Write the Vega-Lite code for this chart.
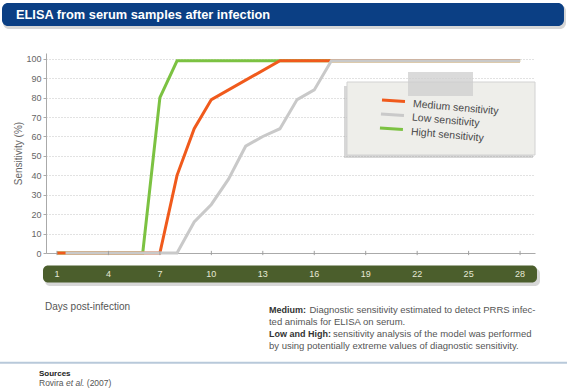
{
  "$schema": "https://vega.github.io/schema/vega-lite/v6.json",
  "width": 489,
  "height": 200,
  "autosize": {"type": "none"},
  "padding": {"left": 46, "top": 53, "right": 32, "bottom": 138},
  "background": "white",
  "config": {
    "view": {"stroke": null},
    "font": "Liberation Sans",
    "axisX": {"labels": false, "ticks": false, "grid": false, "domainColor": "#aaaaaa"},
    "axisY": {"tickCount": 11, "labelFontSize": 9, "labelColor": "#666666", "labelPadding": 2, "tickSize": 3, "tickColor": "#aaaaaa", "domainColor": "#aaaaaa", "grid": true, "gridColor": "#c4c4c4", "gridDash": [1, 2], "titleFontSize": 10, "titleFontWeight": "normal", "titleColor": "#666666", "titlePadding": 2}
  },
  "datasets": {
    "series": [
      {"series": "High", "day": 1, "value": 0},
      {"series": "High", "day": 6, "value": 0},
      {"series": "High", "day": 7, "value": 80},
      {"series": "High", "day": 8, "value": 99},
      {"series": "High", "day": 28, "value": 99},
      {"series": "Medium", "day": 1, "value": 0},
      {"series": "Medium", "day": 7, "value": 0},
      {"series": "Medium", "day": 8, "value": 40},
      {"series": "Medium", "day": 9, "value": 64},
      {"series": "Medium", "day": 10, "value": 79},
      {"series": "Medium", "day": 14, "value": 99},
      {"series": "Medium", "day": 28, "value": 99},
      {"series": "Low", "day": 1.5, "value": 0},
      {"series": "Low", "day": 8, "value": 0},
      {"series": "Low", "day": 9, "value": 16},
      {"series": "Low", "day": 10, "value": 25},
      {"series": "Low", "day": 11, "value": 38},
      {"series": "Low", "day": 12, "value": 55},
      {"series": "Low", "day": 13, "value": 60},
      {"series": "Low", "day": 14, "value": 64},
      {"series": "Low", "day": 15, "value": 79},
      {"series": "Low", "day": 16, "value": 84},
      {"series": "Low", "day": 17, "value": 99},
      {"series": "Low", "day": 28, "value": 99}
    ],
    "ticks": [
      {"day": 1}, {"day": 4}, {"day": 7}, {"day": 10}, {"day": 13},
      {"day": 16}, {"day": 19}, {"day": 22}, {"day": 25}, {"day": 28}
    ]
  },
  "layer": [
    {
      "data": {"name": "series"},
      "transform": [{"filter": "datum.series === 'High'"}],
      "mark": {"type": "line", "color": "#7cc242", "strokeWidth": 3},
      "encoding": {
        "x": {"field": "day", "type": "quantitative", "title": null, "scale": {"domain": [0.36, 28.87], "nice": false, "zero": false}},
        "y": {"field": "value", "type": "quantitative", "title": "Sensitivity (%)", "scale": {"domain": [0, 103], "nice": false, "zero": false}}
      }
    },
    {
      "data": {"name": "series"},
      "transform": [{"filter": "datum.series === 'Medium'"}],
      "mark": {"type": "line", "color": "#f05a1c", "strokeWidth": 3},
      "encoding": {
        "x": {"field": "day", "type": "quantitative"},
        "y": {"field": "value", "type": "quantitative"}
      }
    },
    {
      "data": {"name": "series"},
      "transform": [{"filter": "datum.series === 'Low'"}],
      "mark": {"type": "line", "color": "#c9c9c9", "strokeWidth": 3},
      "encoding": {
        "x": {"field": "day", "type": "quantitative"},
        "y": {"field": "value", "type": "quantitative"}
      }
    },
    {
      "data": {"name": "ticks"},
      "mark": {"type": "rule", "color": "#a0a0a0", "strokeWidth": 1},
      "encoding": {
        "x": {"field": "day", "type": "quantitative"},
        "y": {"datum": 1.1, "type": "quantitative"},
        "y2": {"datum": -1.1}
      }
    },
    {
      "data": {"values": [{}]},
      "mark": {"type": "rect", "cornerRadius": 6, "fill": "#8a8a8a", "opacity": 0.35},
      "encoding": {
        "x": {"datum": -2.147, "type": "quantitative"},
        "x2": {"datum": 30.677},
        "y": {"datum": 127.72, "type": "quantitative"},
        "y2": {"datum": 115.36}
      }
    },
    {
      "data": {"values": [{}]},
      "mark": {"type": "rect", "cornerRadius": 6, "fill": "#0b3f84"},
      "encoding": {
        "x": {"datum": -2.205, "type": "quantitative"},
        "x2": {"datum": 30.56},
        "y": {"datum": 128.75, "type": "quantitative"},
        "y2": {"datum": 116.9}
      }
    },
    {
      "data": {"values": [{"t": "ELISA from serum samples after infection"}]},
      "mark": {"type": "text", "align": "left", "baseline": "middle", "fontSize": 12.8, "fontWeight": "bold", "color": "#ffffff"},
      "encoding": {
        "x": {"datum": -1.389, "type": "quantitative"},
        "y": {"datum": 122.57, "type": "quantitative"},
        "text": {"field": "t"}
      }
    },
    {
      "data": {"values": [{}]},
      "mark": {"type": "rect", "fill": "#9a9a9a", "opacity": 0.4},
      "encoding": {
        "x": {"datum": 17.734, "type": "quantitative"},
        "x2": {"datum": 28.753},
        "y": {"datum": 86.0, "type": "quantitative"},
        "y2": {"datum": 48.925}
      }
    },
    {
      "data": {"values": [{}]},
      "mark": {"type": "rect", "fill": "#eeeeea", "stroke": "#d2d2d2", "strokeWidth": 1},
      "encoding": {
        "x": {"datum": 17.909, "type": "quantitative"},
        "x2": {"datum": 28.87},
        "y": {"datum": 88.065, "type": "quantitative"},
        "y2": {"datum": 50.47}
      }
    },
    {
      "data": {"values": [{}]},
      "mark": {"type": "rect", "fill": "#cdcdcd", "opacity": 0.75},
      "encoding": {
        "x": {"datum": 21.465, "type": "quantitative"},
        "x2": {"datum": 25.255},
        "y": {"datum": 93.215, "type": "quantitative"},
        "y2": {"datum": 80.855}
      }
    },
    {
      "data": {"values": [{}]},
      "mark": {"type": "rule", "color": "#f05a1c", "strokeWidth": 3},
      "encoding": {
        "x": {"datum": 19.95, "type": "quantitative"},
        "x2": {"datum": 21.29},
        "y": {"datum": 78.795, "type": "quantitative"},
        "y2": {"datum": 78.02}
      }
    },
    {
      "data": {"values": [{}]},
      "mark": {"type": "rule", "color": "#c9c9c9", "strokeWidth": 3},
      "encoding": {
        "x": {"datum": 19.89, "type": "quantitative"},
        "x2": {"datum": 21.23},
        "y": {"datum": 71.585, "type": "quantitative"},
        "y2": {"datum": 70.81}
      }
    },
    {
      "data": {"values": [{}]},
      "mark": {"type": "rule", "color": "#7cc242", "strokeWidth": 3},
      "encoding": {
        "x": {"datum": 19.83, "type": "quantitative"},
        "x2": {"datum": 21.17},
        "y": {"datum": 64.375, "type": "quantitative"},
        "y2": {"datum": 63.6}
      }
    },
    {
      "data": {"values": [{"t": "Medium sensitivity"}]},
      "mark": {"type": "text", "align": "left", "baseline": "middle", "fontSize": 10.5, "angle": 5, "color": "#4a4a4a"},
      "encoding": {
        "x": {"datum": 21.757, "type": "quantitative"},
        "y": {"datum": 76.735, "type": "quantitative"},
        "text": {"field": "t"}
      }
    },
    {
      "data": {"values": [{"t": "Low sensitivity"}]},
      "mark": {"type": "text", "align": "left", "baseline": "middle", "fontSize": 10.5, "angle": 5, "color": "#4a4a4a"},
      "encoding": {
        "x": {"datum": 21.70, "type": "quantitative"},
        "y": {"datum": 69.78, "type": "quantitative"},
        "text": {"field": "t"}
      }
    },
    {
      "data": {"values": [{"t": "Hight sensitivity"}]},
      "mark": {"type": "text", "align": "left", "baseline": "middle", "fontSize": 10.5, "angle": 5, "color": "#4a4a4a"},
      "encoding": {
        "x": {"datum": 21.64, "type": "quantitative"},
        "y": {"datum": 62.315, "type": "quantitative"},
        "text": {"field": "t"}
      }
    },
    {
      "data": {"values": [{}]},
      "mark": {"type": "rect", "cornerRadius": 5, "fill": "#7a7a7a", "opacity": 0.3},
      "encoding": {
        "x": {"datum": 0.302, "type": "quantitative"},
        "x2": {"datum": 29.161},
        "y": {"datum": -7.99, "type": "quantitative"},
        "y2": {"datum": -16.995}
      }
    },
    {
      "data": {"values": [{}]},
      "mark": {"type": "rect", "cornerRadius": 5, "fill": "#4b5e2c"},
      "encoding": {
        "x": {"datum": 0.185, "type": "quantitative"},
        "x2": {"datum": 28.986},
        "y": {"datum": -6.44, "type": "quantitative"},
        "y2": {"datum": -15.19}
      }
    },
    {
      "data": {"name": "ticks"},
      "mark": {"type": "text", "align": "center", "baseline": "middle", "fontSize": 9, "color": "#e6e9d6"},
      "encoding": {
        "x": {"field": "day", "type": "quantitative"},
        "y": {"datum": -10.81, "type": "quantitative"},
        "text": {"field": "day"}
      }
    },
    {
      "data": {"values": [{"t": "Days post-infection"}]},
      "mark": {"type": "text", "align": "left", "baseline": "middle", "fontSize": 10, "color": "#555555"},
      "encoding": {
        "x": {"datum": 0.302, "type": "quantitative"},
        "y": {"datum": -27.66, "type": "quantitative"},
        "text": {"field": "t"}
      }
    },
    {
      "data": {"values": [{"t": "Medium:"}]},
      "mark": {"type": "text", "align": "left", "baseline": "middle", "fontSize": 9, "fontWeight": "bold", "color": "#333333"},
      "encoding": {
        "x": {"datum": 13.36, "type": "quantitative"},
        "y": {"datum": -29.36, "type": "quantitative"},
        "text": {"field": "t"}
      }
    },
    {
      "data": {"values": [{"t": "Diagnostic sensitivity estimated to detect PRRS infec-"}]},
      "mark": {"type": "text", "align": "left", "baseline": "middle", "fontSize": 9.5, "color": "#555555"},
      "encoding": {
        "x": {"datum": 15.723, "type": "quantitative"},
        "y": {"datum": -29.36, "type": "quantitative"},
        "text": {"field": "t"}
      }
    },
    {
      "data": {"values": [{"t": "ted animals for ELISA on serum."}]},
      "mark": {"type": "text", "align": "left", "baseline": "middle", "fontSize": 9.5, "color": "#555555"},
      "encoding": {
        "x": {"datum": 13.36, "type": "quantitative"},
        "y": {"datum": -35.28, "type": "quantitative"},
        "text": {"field": "t"}
      }
    },
    {
      "data": {"values": [{"t": "Low and High:"}]},
      "mark": {"type": "text", "align": "left", "baseline": "middle", "fontSize": 9, "fontWeight": "bold", "color": "#333333"},
      "encoding": {
        "x": {"datum": 13.36, "type": "quantitative"},
        "y": {"datum": -41.71, "type": "quantitative"},
        "text": {"field": "t"}
      }
    },
    {
      "data": {"values": [{"t": "sensitivity analysis of the model was performed"}]},
      "mark": {"type": "text", "align": "left", "baseline": "middle", "fontSize": 9.5, "color": "#555555"},
      "encoding": {
        "x": {"datum": 17.093, "type": "quantitative"},
        "y": {"datum": -41.71, "type": "quantitative"},
        "text": {"field": "t"}
      }
    },
    {
      "data": {"values": [{"t": "by using potentially extreme values of diagnostic sensitivity."}]},
      "mark": {"type": "text", "align": "left", "baseline": "middle", "fontSize": 9.5, "color": "#555555"},
      "encoding": {
        "x": {"datum": 13.36, "type": "quantitative"},
        "y": {"datum": -47.9, "type": "quantitative"},
        "text": {"field": "t"}
      }
    },
    {
      "data": {"values": [{}]},
      "mark": {"type": "rule", "color": "#b8c9da", "strokeWidth": 2},
      "encoding": {
        "x": {"datum": -2.322, "type": "quantitative"},
        "x2": {"datum": 30.735},
        "y": {"datum": -56.5, "type": "quantitative"}
      }
    },
    {
      "data": {"values": [{"t": "Sources"}]},
      "mark": {"type": "text", "align": "left", "baseline": "middle", "fontSize": 8, "fontWeight": "bold", "color": "#222222"},
      "encoding": {
        "x": {"datum": -0.048, "type": "quantitative"},
        "y": {"datum": -62.57, "type": "quantitative"},
        "text": {"field": "t"}
      }
    },
    {
      "data": {"values": [{"t": "Rovira"}]},
      "mark": {"type": "text", "align": "left", "baseline": "middle", "fontSize": 8.5, "color": "#555555"},
      "encoding": {
        "x": {"datum": -0.048, "type": "quantitative"},
        "y": {"datum": -66.9, "type": "quantitative"},
        "text": {"field": "t"}
      }
    },
    {
      "data": {"values": [{"t": "et al."}]},
      "mark": {"type": "text", "align": "left", "baseline": "middle", "fontSize": 8.5, "fontStyle": "italic", "color": "#555555"},
      "encoding": {
        "x": {"datum": 1.526, "type": "quantitative"},
        "y": {"datum": -66.9, "type": "quantitative"},
        "text": {"field": "t"}
      }
    },
    {
      "data": {"values": [{"t": "(2007)"}]},
      "mark": {"type": "text", "align": "left", "baseline": "middle", "fontSize": 8.5, "color": "#555555"},
      "encoding": {
        "x": {"datum": 2.739, "type": "quantitative"},
        "y": {"datum": -66.9, "type": "quantitative"},
        "text": {"field": "t"}
      }
    }
  ]
}
